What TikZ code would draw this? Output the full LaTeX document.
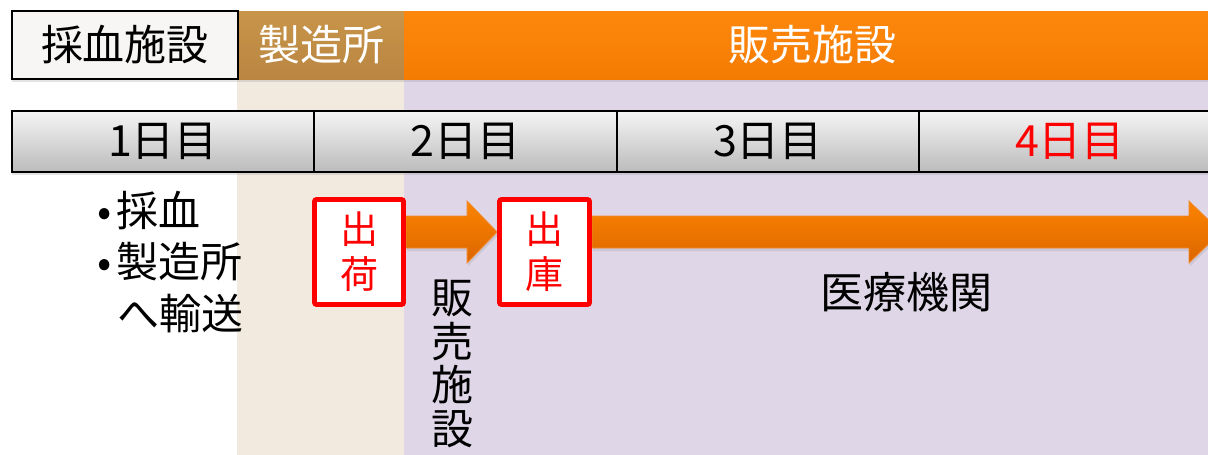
\documentclass[tikz,border=0pt]{standalone}
\usepackage{fontspec}
\setmainfont{Noto Sans CJK JP}
\usetikzlibrary{calc,shadows}
\pgfdeclarelayer{bg}
\pgfdeclarelayer{arr}
\pgfsetlayers{bg,arr,main}
\definecolor{beige}{HTML}{F2EADF}
\definecolor{lav}{HTML}{DFD7E8}
\definecolor{hwhite}{HTML}{F7F6F4}
\definecolor{dayT}{HTML}{F5F5F5}
\definecolor{dayB}{HTML}{BBBBBB}
\definecolor{arT}{HTML}{FC8400}
\definecolor{arB}{HTML}{DC6500}
\definecolor{arE}{HTML}{F08A30}
\definecolor{boxred}{HTML}{FF0000}
\pgfdeclareverticalshading{goldsh}{100bp}{color(0bp)=(rgb,255:red,138;green,92;blue,40);
  color(5bp)=(rgb,255:red,160;green,112;blue,52); color(10bp)=(rgb,255:red,181;green,129;blue,63);
  color(86bp)=(rgb,255:red,203;green,152;blue,76); color(92bp)=(rgb,255:red,214;green,165;blue,84);
  color(95bp)=(rgb,255:red,240;green,196;blue,104); color(100bp)=(rgb,255:red,232;green,184;blue,96)}
\pgfdeclareverticalshading{orangesh}{100bp}{color(0bp)=(rgb,255:red,180;green,86;blue,0);
  color(5bp)=(rgb,255:red,222;green,108;blue,0); color(10bp)=(rgb,255:red,242;green,120;blue,0);
  color(86bp)=(rgb,255:red,255;green,138;blue,14); color(92bp)=(rgb,255:red,255;green,152;blue,30);
  color(95bp)=(rgb,255:red,255;green,186;blue,72); color(100bp)=(rgb,255:red,255;green,172;blue,64)}
\begin{document}
\begin{tikzpicture}[x=1pt,y=-1pt,
  shad/.style={drop shadow={opacity=0.22,shadow xshift=0pt,shadow yshift=-3pt}},
  hdr/.style={inner sep=0pt,outer sep=0pt,minimum height=68pt,font=\fontsize{42}{48}\selectfont},
  hdrwhite/.style={hdr,fill=hwhite,draw=black,line width=1.5pt,text=black},
  hdrgold/.style={hdr,shading=goldsh,text=white},
  hdrorange/.style={hdr,shading=orangesh,text=white},
  daycell/.style={inner sep=0pt,outer sep=0pt,minimum height=61pt,top color=dayT,bottom color=dayB,draw=black,line width=1.2pt,font=\fontsize{43}{48}\selectfont},
  txt/.style={inner sep=0pt,outer sep=0pt,font=\fontsize{42}{51}\selectfont},
  redbox/.style={draw=boxred,fill=white,line width=4.8pt,rounded corners=2pt,inner sep=0pt,minimum height=105pt,text=boxred,align=center,font=\fontsize{38}{45}\selectfont},
  blockarrow/.style={top color=arT,bottom color=arB,draw=arE,line width=0.8pt,drop shadow={opacity=0.2,shadow xshift=1pt,shadow yshift=-3pt}}
]
\useasboundingbox (0,0) rectangle (1208,455);
\clip (0,0) rectangle (1208,455);
\begin{pgfonlayer}{bg}
  \fill[white] (0,0) rectangle (1208,455);
  \fill[beige] (237,79) rectangle (404,455);
  \fill[lav] (404,79) rectangle (1208,455);
\end{pgfonlayer}

% header row
\node[hdrgold,shad,minimum width=166pt] (mfg) at (321,45) {製造所};
\node[hdrorange,shad,minimum width=816pt] (sales) at (812,45) {販売施設};
\node[hdrwhite,shad,minimum width=226pt] (blood) at (125,45) {採血施設};

% day row
\node[daycell,shad,minimum width=302pt] (d1) at (163,141.5) {1日目};
\node[daycell,shad,minimum width=303pt] (d2) at (465.5,141.5) {2日目};
\node[daycell,shad,minimum width=302pt] (d3) at (768,141.5) {3日目};
\node[daycell,shad,minimum width=302pt,text=boxred] (d4) at (1070,141.5) {4日目};
\draw[line width=2pt] (d1.north west) rectangle (d4.south east);

% bullets
\node[txt,anchor=west] (b1) at (92,211) {\makebox[25pt][c]{•}採血};
\node[txt,anchor=west] (b2) at (92,262) {\makebox[25pt][c]{•}製造所};
\node[txt,anchor=west] (b3) at (117,314) {へ輸送};

% red boxes
\node[redbox,minimum width=89pt] (shukka) at (359,252) {出\\荷};
\node[redbox,minimum width=90pt] (shukko) at (544.5,252) {出\\庫};

% labels
\node[inner sep=0pt,align=center,font=\fontsize{42}{43.5}\selectfont] (vsales) at (452,364) {販\\売\\施\\設};
\node[inner sep=0pt,font=\fontsize{43}{51}\selectfont] (iryo) at (906,292) {医療機関};

% arrows
\coordinate (st) at (0,216);
\coordinate (sb) at (0,248);
\coordinate (ht) at (0,201);
\coordinate (hb) at (0,263);
\coordinate (mid) at (0,232);
\coordinate (h1) at ($(shukko.west)+(-30,0)$);
\coordinate (tipend) at (1221,232);
\coordinate (h2) at ($(tipend)+(-32,0)$);
\begin{pgfonlayer}{arr}
  \path[blockarrow] (shukka.east |- st) -- (h1 |- st) -- (h1 |- ht) -- (shukko.west |- mid)
     -- (h1 |- hb) -- (h1 |- sb) -- (shukka.east |- sb) -- cycle;
  \path[blockarrow] (shukko.east |- st) -- (h2 |- st) -- (h2 |- ht) -- (tipend)
     -- (h2 |- hb) -- (h2 |- sb) -- (shukko.east |- sb) -- cycle;
\end{pgfonlayer}
\end{tikzpicture}
\end{document}
